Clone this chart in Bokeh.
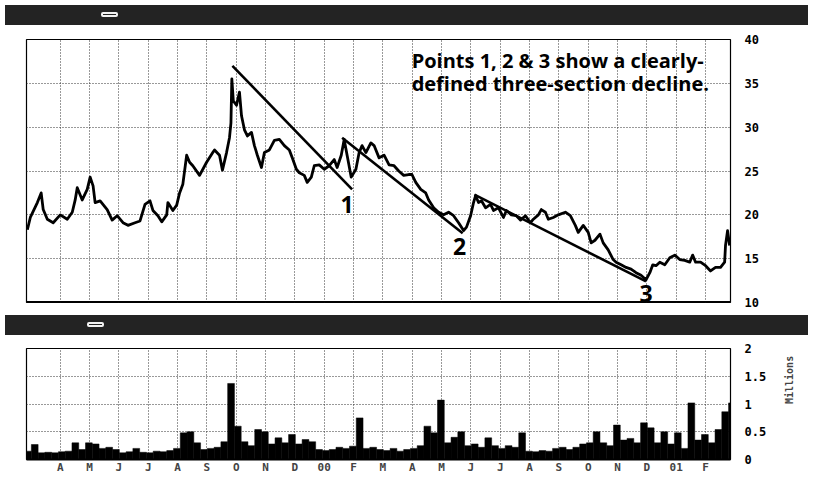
import math
from bokeh.plotting import figure
from bokeh.models import (FixedTicker, Range1d, Label, Span, Div)
from bokeh.layouts import column
from bokeh.embed import file_html
from bokeh.resources import INLINE

# ---------------- data ----------------
# x axis: months since 1 April 1999 (0 = Apr 99, 9 = Jan 00, 21 = Jan 01)
month_labels = ["A", "M", "J", "J", "A", "S", "O", "N", "D", "00", "F", "M",
                "A", "M", "J", "J", "A", "S", "O", "N", "D", "01", "F"]
month_pos = list(range(len(month_labels)))

price_t = [-1.12, -1.02, -0.78, -0.65, -0.58, -0.44, -0.24, 0.00, 0.24, 0.41,
           0.51, 0.58, 0.75, 0.92, 1.02, 1.12, 1.19, 1.36, 1.60, 1.77,
           1.94, 2.14, 2.31, 2.55, 2.72, 2.89, 3.06, 3.16, 3.33, 3.46,
           3.63, 3.67, 3.84, 3.97, 4.07, 4.18, 4.31, 4.41, 4.52, 4.75,
           4.99, 5.20, 5.26, 5.43, 5.53, 5.67, 5.77, 5.82, 5.85, 5.90,
           6.01, 6.11, 6.18, 6.28, 6.38, 6.52, 6.62, 6.72, 6.86, 6.96,
           7.13, 7.30, 7.47, 7.64, 7.81, 7.91, 8.05, 8.15, 8.32, 8.42,
           8.56, 8.66, 8.83, 9.00, 9.17, 9.34, 9.44, 9.58, 9.68, 9.78,
           9.92, 10.08, 10.19, 10.29, 10.42, 10.59, 10.70, 10.87, 11.04, 11.21,
           11.38, 11.54, 11.71, 11.88, 11.99, 12.12, 12.29, 12.46, 12.56, 12.73,
           12.90, 13.07, 13.24, 13.41, 13.58, 13.75, 13.85, 13.99, 14.09, 14.16,
           14.26, 14.36, 14.50, 14.67, 14.77, 14.94, 15.11, 15.21, 15.38, 15.55,
           15.69, 15.86, 16.03, 16.13, 16.30, 16.40, 16.54, 16.64, 16.81, 16.98,
           17.22, 17.39, 17.56, 17.66, 17.83, 18.00, 18.10, 18.23, 18.40, 18.51,
           18.68, 18.85, 18.95, 19.12, 19.29, 19.46, 19.63, 19.80, 19.97, 20.10,
           20.20, 20.31, 20.44, 20.61, 20.78, 20.95, 21.12, 21.29, 21.46, 21.56,
           21.66, 21.83, 22.00, 22.17, 22.34, 22.51, 22.65, 22.68, 22.75, 22.82]

price_v = [18.3, 19.7, 21.4, 22.5, 20.6, 19.5, 19.1, 20.0, 19.5, 20.3,
           21.7, 23.1, 21.7, 22.9, 24.3, 23.3, 21.4, 21.6, 20.6, 19.4,
           19.9, 19.1, 18.8, 19.1, 19.3, 21.2, 21.6, 20.5, 19.9, 19.2,
           20.0, 21.4, 20.5, 21.1, 22.5, 23.5, 26.8, 26.0, 25.6, 24.5,
           26.0, 27.1, 27.4, 26.8, 25.1, 27.1, 28.8, 30.5, 35.5, 33.0,
           32.5, 34.0, 31.3, 29.7, 29.0, 29.4, 27.9, 26.8, 25.4, 27.1,
           27.4, 28.5, 28.6, 27.9, 27.4, 26.5, 25.2, 24.8, 24.5, 23.7,
           24.3, 25.6, 25.7, 25.2, 25.6, 26.3, 25.4, 26.8, 28.6, 26.8,
           24.3, 25.2, 27.1, 27.9, 27.1, 28.2, 27.9, 26.5, 26.8, 25.7,
           25.6, 25.0, 24.5, 24.6, 24.6, 23.7, 22.9, 22.5, 21.7, 20.8,
           20.3, 20.0, 20.3, 19.9, 19.1, 18.2, 18.6, 19.9, 21.4, 22.2,
           21.4, 21.6, 20.8, 21.2, 20.5, 20.8, 19.7, 20.5, 20.0, 19.9,
           19.4, 19.9, 19.1, 19.5, 20.0, 20.6, 20.3, 19.5, 19.7, 20.0,
           20.3, 19.9, 18.8, 18.0, 18.8, 18.0, 16.8, 17.1, 17.8, 16.8,
           16.0, 14.9, 14.6, 14.3, 14.0, 13.8, 13.4, 13.1, 12.6, 13.4,
           14.3, 14.2, 14.6, 14.3, 15.1, 15.4, 14.9, 14.8, 14.6, 15.4,
           14.6, 14.6, 14.2, 13.6, 14.0, 14.0, 14.6, 16.5, 18.2, 16.5]

# hand-drawn decline lines (start, end)
trend_t = [[5.87, 9.95], [9.61, 13.72], [14.12, 19.97]]
trend_v = [[37.0, 22.9], [28.8, 17.9], [22.3, 12.4]]
point_names = ["1", "2", "3"]

# weekly volume, millions of shares
vol_v = [0.15, 0.27, 0.12, 0.13, 0.12, 0.14, 0.15, 0.30, 0.18, 0.30,
         0.28, 0.20, 0.22, 0.18, 0.12, 0.14, 0.20, 0.13, 0.12, 0.15,
         0.14, 0.16, 0.20, 0.48, 0.50, 0.30, 0.18, 0.20, 0.22, 0.32,
         1.37, 0.60, 0.32, 0.25, 0.54, 0.50, 0.28, 0.39, 0.30, 0.45,
         0.28, 0.36, 0.32, 0.18, 0.16, 0.18, 0.22, 0.20, 0.24, 0.75,
         0.20, 0.22, 0.18, 0.16, 0.20, 0.15, 0.18, 0.20, 0.25, 0.60,
         0.48, 1.07, 0.30, 0.40, 0.50, 0.25, 0.28, 0.22, 0.39, 0.25,
         0.20, 0.25, 0.22, 0.48, 0.15, 0.14, 0.16, 0.15, 0.20, 0.22,
         0.18, 0.22, 0.28, 0.30, 0.50, 0.30, 0.25, 0.62, 0.35, 0.38,
         0.30, 0.66, 0.57, 0.30, 0.50, 0.28, 0.48, 0.20, 1.02, 0.35,
         0.45, 0.30, 0.54, 0.86, 1.02]
week = 12.0 / 52.0
vol_t = [-1.1 + week * i for i in range(len(vol_v))]

price_ticks = [10, 15, 20, 25, 30, 35, 40]
vol_ticks = [0, 0.5, 1, 1.5, 2]
vol_tick_labels = ["0", "0.5", "1", "1.5", "2"]

# ---------------- styling helpers ----------------
W = 803
XR = (-1.15, 22.85)
AXIS_FONT = "DejaVu Sans Mono"
GRID = "#333333"


def style(p):
    p.outline_line_color = "black"
    p.outline_line_width = 1.2
    p.background_fill_color = "white"
    p.border_fill_color = "white"
    for g in (p.xgrid, p.ygrid):
        g.grid_line_color = GRID
        g.grid_line_dash = "1 2"
        g.grid_line_width = 1
    ax = p.yaxis[0]
    ax.axis_line_color = None
    ax.major_tick_line_color = None
    ax.minor_tick_line_color = None
    ax.major_label_text_font = AXIS_FONT
    ax.major_label_text_font_style = "bold"
    ax.major_label_text_font_size = "12px"
    ax.major_label_text_color = "black"
    ax.major_label_standoff = 8


def header(box_left):
    return Div(
        text='<div style="margin-left:%dpx;margin-top:6px;width:17px;height:5px;'
             'border:2px solid #f2f2f2;border-radius:2px"></div>' % box_left,
        width=W, height=20,
        styles={"background-color": "#232323"})


# ---------------- price panel ----------------
p1 = figure(width=W, height=280, x_range=Range1d(*XR), y_range=Range1d(10, 40),
            y_axis_location="right", output_backend="svg", toolbar_location=None,
            min_border_left=26, min_border_right=70, min_border_top=9,
            min_border_bottom=8)
p1.xaxis.visible = False
p1.xaxis.ticker = FixedTicker(ticks=month_pos)
p1.yaxis.ticker = FixedTicker(ticks=price_ticks)
style(p1)

p1.line(price_t, price_v, line_color="black", line_width=2.8, line_join="round")
p1.multi_line(trend_t, trend_v, line_color="black", line_width=2.6)
p1.add_layout(Span(location=10, dimension="width", line_color="black", line_width=3))

# numbered points, just under the end of each decline line
offsets = [(-5, -15), (-3, -13), (0, -12)]
for name, tt, vv, (dx, dy) in zip(point_names, trend_t, trend_v, offsets):
    p1.add_layout(Label(x=tt[1], y=vv[1], text=name, x_offset=dx, y_offset=dy,
                        text_font="Open Sans", text_font_style="bold",
                        text_font_size="23px", text_align="center",
                        text_baseline="middle", text_color="black"))

note = ["Points 1, 2 & 3 show a clearly-", "defined three-section decline."]
for i, line in enumerate(note):
    p1.add_layout(Label(x=11.98, y=37.6, y_offset=-23 * i, text=line,
                        text_font="Open Sans", text_font_style="bold",
                        text_font_size="20px", text_align="left",
                        text_baseline="middle", text_color="black"))

# ---------------- volume panel ----------------
p2 = figure(width=W, height=136, x_range=p1.x_range, y_range=Range1d(0, 2),
            y_axis_location="right", output_backend="svg", toolbar_location=None,
            min_border_left=26, min_border_right=70, min_border_top=8,
            min_border_bottom=0)
p2.xaxis.ticker = FixedTicker(ticks=month_pos)
p2.xaxis.major_label_overrides = {i: lab for i, lab in zip(month_pos, month_labels)}
p2.yaxis.ticker = FixedTicker(ticks=vol_ticks)
p2.yaxis.major_label_overrides = {float(t): s for t, s in zip(vol_ticks, vol_tick_labels)}
style(p2)
xa = p2.xaxis[0]
xa.axis_line_color = "black"
xa.axis_line_width = 2
xa.major_tick_line_color = None
xa.minor_tick_line_color = None
xa.major_tick_out = 0
xa.major_tick_in = 0
xa.major_label_text_font = AXIS_FONT
xa.major_label_text_font_style = "bold"
xa.major_label_text_font_size = "11px"
xa.major_label_standoff = 1
ya = p2.yaxis[0]
ya.axis_label = "Millions"
ya.axis_label_text_font = AXIS_FONT
ya.axis_label_text_font_style = "bold"
ya.axis_label_text_font_size = "10px"
ya.axis_label_standoff = 20
if "axis_label_orientation" in ya.properties():
    ya.axis_label_orientation = math.pi / 2

p2.vbar(x=vol_t, top=vol_v, width=week, bottom=0, fill_color="black",
        line_color="black", line_width=0.5)

layout = column(header(96), p1, header(82), p2, spacing=0)
open("out.html", "w").write(file_html(layout, INLINE))
